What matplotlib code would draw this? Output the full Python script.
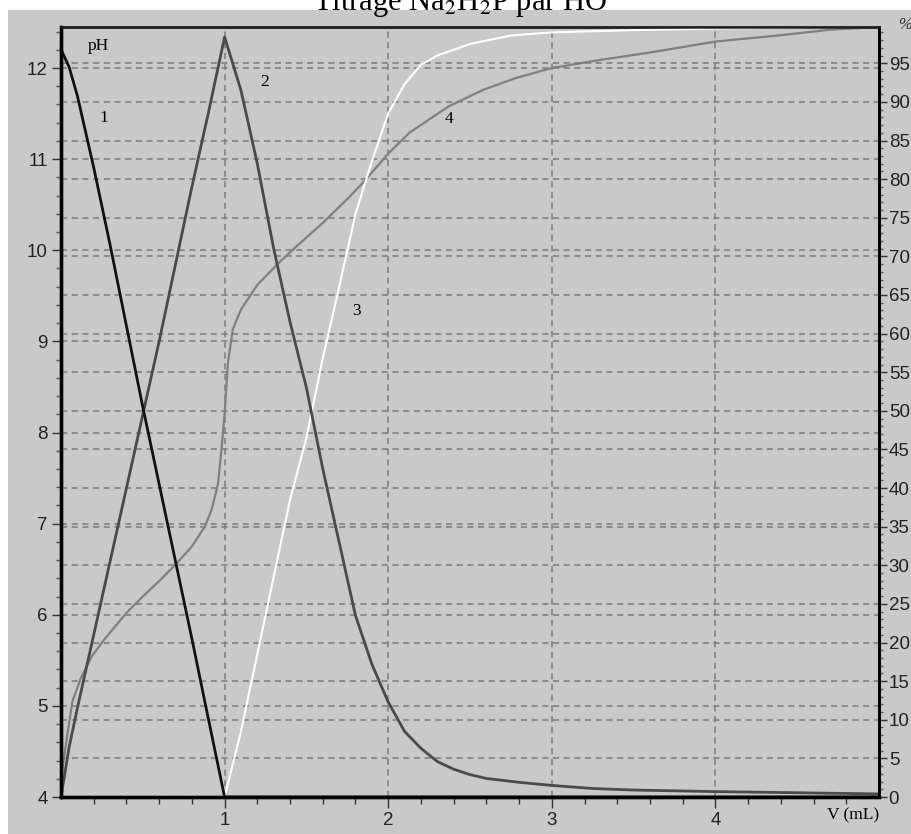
import matplotlib
matplotlib.use('Agg')
import matplotlib.pyplot as plt
from matplotlib.patches import Rectangle

# Volume of titrant (mL) and species percentages (right axis)
v1 = [0, 0.05, 0.1, 0.2, 0.3, 0.4, 0.5, 0.6, 0.7, 0.8, 0.9, 1.0, 5.0]
p1 = [96.8, 94.5, 90.8, 81.5, 71.5, 61.0, 50.5, 40.5, 30.5, 20.5, 10.2, 0, 0]

v2 = [0, 0.05, 0.1, 0.2, 0.3, 0.4, 0.5, 0.6, 0.7, 0.8, 0.9, 1.0, 1.1, 1.2, 1.3, 1.4,
      1.5, 1.6, 1.7, 1.8, 1.9, 2.0, 2.1, 2.2, 2.3, 2.4, 2.5, 2.6, 2.8, 3.0, 3.25, 3.5,
      4.0, 4.5, 5.0]
p2 = [0, 6.5, 11.5, 21.0, 30.5, 40.0, 49.5, 59.0, 69.0, 79.0, 88.5, 98.4, 91.5, 82.0,
      71.0, 61.5, 53.0, 42.5, 33.0, 23.5, 17.2, 12.3, 8.5, 6.3, 4.6, 3.6, 2.9, 2.4, 1.9,
      1.5, 1.1, 0.9, 0.7, 0.55, 0.4]

v3 = [0, 1.0, 1.1, 1.2, 1.3, 1.4, 1.5, 1.6, 1.7, 1.8, 1.9, 2.0, 2.1, 2.2, 2.3, 2.5,
      2.75, 3.0, 3.5, 4.0, 4.5, 5.0]
p3 = [0, 0, 8.5, 18.5, 28.5, 38.5, 46.5, 56.8, 66.0, 75.5, 82.3, 88.5, 92.3, 94.8, 96.0,
      97.5, 98.6, 99.0, 99.3, 99.5, 99.6, 99.7]

# pH curve (left axis)
v4 = [0, 0.02, 0.04, 0.07, 0.12, 0.19, 0.27, 0.4, 0.5, 0.6, 0.7, 0.8, 0.88, 0.92, 0.96,
      0.98, 1.0, 1.02, 1.05, 1.1, 1.2, 1.33, 1.45, 1.6, 1.76, 1.86, 2.0, 2.13, 2.37, 2.58,
      2.78, 3.0, 3.3, 3.6, 4.0, 4.4, 4.7, 5.0]
ph4 = [4.2, 4.45, 4.7, 5.05, 5.3, 5.55, 5.74, 6.02, 6.2, 6.37, 6.55, 6.75, 6.97, 7.15,
       7.44, 7.8, 8.2, 8.76, 9.13, 9.35, 9.62, 9.86, 10.06, 10.3, 10.58, 10.77, 11.06,
       11.29, 11.58, 11.76, 11.89, 12.0, 12.09, 12.17, 12.29, 12.36, 12.42, 12.45]

x_ticks = [1, 2, 3, 4]
ph_ticks = [4, 5, 6, 7, 8, 9, 10, 11, 12]
pct_ticks = list(range(0, 100, 5))

bg = '#c9c9c9'
gridc = '#7c7c7c'

fig = plt.figure(figsize=(9.12, 8.34), dpi=100, facecolor='white')
fig.patches.append(Rectangle((8 / 912, 0), 1, 1 - 10 / 834, transform=fig.transFigure,
                             facecolor=bg, edgecolor='none', zorder=-10))

ax = fig.add_axes([61 / 912, 1 - 797 / 834, 818 / 912, 770 / 834])
ax.set_facecolor(bg)
ax2 = ax.twinx()

ax.set_xlim(0, 5)
ax.set_ylim(4, 12.45)
ax2.set_ylim(0, 99.7)

# grids
ax.set_xticks(x_ticks)
ax.set_xticks([i * 0.2 for i in range(1, 25)], minor=True)
ax.set_yticks(ph_ticks)
ax.set_yticks([4 + i * 0.2 for i in range(1, 43)], minor=True)
ax2.set_yticks(pct_ticks)
ax2.set_yticks(list(range(1, 100)), minor=True)

ax.grid(True, which='major', axis='both', color=gridc, lw=1.1, dashes=(4, 3))
ax2.grid(True, which='major', axis='y', color=gridc, lw=1.1, dashes=(4, 3))

# curves
ax2.plot(v3, p3, color='white', lw=1.5)
ax.plot(v4, ph4, color='#808080', lw=1.6)
ax2.plot(v2, p2, color='#4a4a4a', lw=2)
ax2.plot(v1, p1, color='#111111', lw=2)

# ticks and labels
tick_font = dict(family='Liberation Sans', size=13.5, color='#222222')
ax.set_xticklabels([str(t) for t in x_ticks], fontdict=tick_font)
ax.set_yticklabels([str(t) for t in ph_ticks], fontdict=tick_font)
ax2.set_yticklabels([str(t) for t in pct_ticks], fontdict=tick_font)
ax.tick_params(axis='x', which='major', length=8, width=1, color='#333333', pad=3)
ax.tick_params(axis='x', which='minor', length=5, width=1, color='#333333')
ax.tick_params(axis='y', which='major', length=6.5, width=1, color='#333333', pad=3)
ax.tick_params(axis='y', which='minor', length=3.5, width=1, color='#555555')
ax2.tick_params(axis='y', which='major', length=6, width=1, color='#333333', pad=1)
ax2.tick_params(axis='y', which='minor', length=3, width=1, color='#555555')

for a in (ax, ax2):
    a.spines['left'].set_linewidth(2.4)
    a.spines['bottom'].set_linewidth(2.4)
    a.spines['right'].set_linewidth(2.0)
    a.spines['top'].set_linewidth(1.8)
    a.spines['top'].set_color('#222222')

serif = ['Liberation Serif', 'DejaVu Serif']
ax.text(0.165, 12.24, 'pH', family=serif, fontsize=12.5, va='center', ha='left')
ax.text(0.262, 11.45, '1', family=serif, fontsize=12.5, va='center', ha='center')
ax.text(1.244, 11.85, '2', family=serif, fontsize=12.5, va='center', ha='center')
ax.text(1.807, 9.33, '3', family=serif, fontsize=12.5, va='center', ha='center')
ax.text(2.372, 11.44, '4', family=serif, fontsize=12.5, va='center', ha='center')

fig.text(853 / 912, 1 - 815 / 834, 'V (mL)', family=serif, fontsize=12.5,
         ha='center', va='center')
fig.text(905 / 912, 1 - 25 / 834, '%', family=serif, fontsize=12, style='italic',
         ha='center', va='center', color='#333333')

plt.rcParams['mathtext.fontset'] = 'stix'
fig.text(313 / 912, 1 - 10 / 834, 'Titrage Na$_2$H$_2$P par HO$^{-}$', family=serif,
         fontsize=22, ha='left', va='baseline')

fig.savefig('out.png', dpi=100, facecolor='white')
